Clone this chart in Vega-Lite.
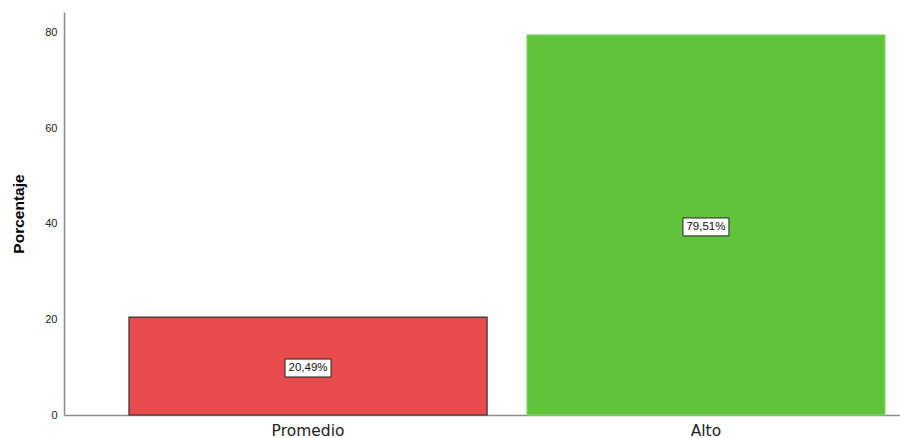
{
  "$schema": "https://vega.github.io/schema/vega-lite/v6.json",
  "autosize": {"type": "none"},
  "padding": {"left": 64, "top": 12, "right": 0, "bottom": 23},
  "width": 836,
  "height": 403,
  "background": "white",
  "config": {"view": {"stroke": null}, "font": "Liberation Sans"},
  "data": {"values": [
    {"nivel": "Promedio", "porcentaje": 20.49, "etiqueta": "20,49%"},
    {"nivel": "Alto", "porcentaje": 79.51, "etiqueta": "79,51%"}
  ]},
  "transform": [{"calculate": "datum.porcentaje / 2", "as": "mitad"}],
  "encoding": {
    "x": {
      "field": "nivel", "type": "nominal", "sort": ["Promedio", "Alto"],
      "scale": {"paddingInner": 0.1, "paddingOuter": 0.1005, "align": 0.8125},
      "axis": {"title": null, "labelAngle": 0, "labelFont": "DejaVu Sans", "labelFontSize": 15.5, "labelColor": "#222", "labelPadding": 8, "ticks": false, "domainColor": "#8c8c8c", "domainWidth": 1.5}
    }
  },
  "layer": [
    {
      "mark": {"type": "bar", "strokeWidth": 1.2},
      "encoding": {
        "y": {
          "field": "porcentaje", "type": "quantitative",
          "scale": {"domain": [0, 84.3], "nice": false},
          "axis": {"title": "Porcentaje", "titleFontSize": 15.5, "titleFontWeight": "bold", "titleColor": "#000", "titlePadding": 18, "values": [0, 20, 40, 60, 80], "grid": false, "ticks": false, "labelPadding": 7, "labelFontSize": 11, "labelColor": "#222", "domainColor": "#8c8c8c", "domainWidth": 1.5}
        },
        "color": {"field": "nivel", "type": "nominal", "scale": {"domain": ["Promedio", "Alto"], "range": ["#E84B4C", "#5FC43A"]}, "legend": null},
        "stroke": {"field": "nivel", "type": "nominal", "scale": {"domain": ["Promedio", "Alto"], "range": ["#333333", "#90D97C"]}, "legend": null}
      }
    },
    {
      "mark": {"type": "point", "shape": "M-1,-0.39H1V0.39H-1Z", "filled": true, "fill": "white", "stroke": "#222", "strokeWidth": 1, "opacity": 1, "size": 2116, "yOffset": 2},
      "encoding": {"y": {"field": "mitad", "type": "quantitative"}}
    },
    {
      "mark": {"type": "text", "fontSize": 11.5, "color": "#111", "yOffset": 2, "baseline": "middle"},
      "encoding": {"y": {"field": "mitad", "type": "quantitative"}, "text": {"field": "etiqueta"}}
    }
  ]
}
